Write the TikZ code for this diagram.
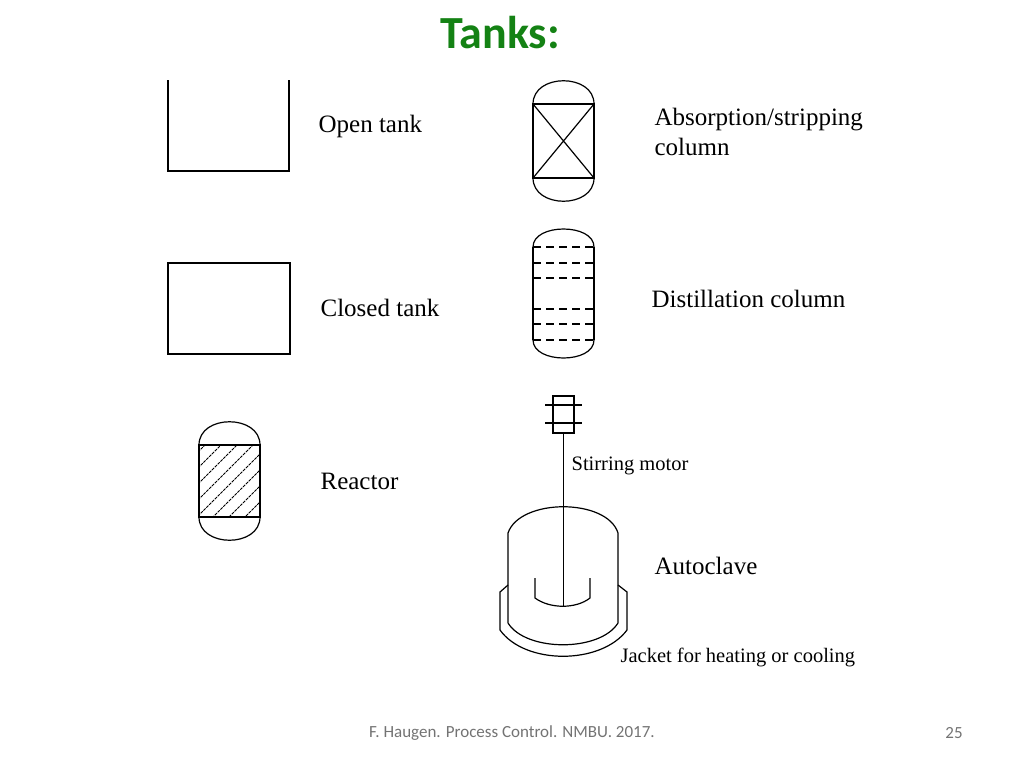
\documentclass[tikz,border=0pt]{standalone}
\usepackage{fontspec}
\setmainfont{Liberation Serif}
\newfontfamily\calfont{Carlito}
\begin{document}
\begin{tikzpicture}[x=1pt,y=-1pt,line width=1.2pt,
 lbl/.style={anchor=west,font=\fontsize{25}{30}\selectfont,inner sep=0pt,align=left},
 slbl/.style={anchor=west,font=\fontsize{20.5}{24}\selectfont,inner sep=0pt}]
\useasboundingbox (0,0) rectangle (1024,768);
\node (title) at (500,33) {\calfont\bfseries\fontsize{46}{50}\selectfont\color[RGB]{20,130,20}Tanks:};
% open tank
\draw (168,80) -- (168,171) -- (289,171) -- (289,80);
\node[lbl] (l1) at (318,126) {Open tank};
% closed tank
\draw (168,263) rectangle (290,354);
\node[lbl] (l2) at (320,308) {Closed tank};
% reactor
\draw (199,445) rectangle (260,517);
\draw (199,445) .. controls (199,414) and (260,414) .. (260,445);
\draw (199,517) .. controls (199,548) and (260,548) .. (260,517);
\begin{scope}[line width=1pt,dash pattern=on 3pt off 1pt]
\clip (199,445) rectangle (260,517);
\foreach \k in {0,...,8} \draw (195,455+\k*16) -- (265,385+\k*16);
\end{scope}
\node[lbl] (l3) at (320,481) {Reactor};
% absorption
\draw (533,104) rectangle (594,178);
\draw (533,104) -- (594,178) (533,178) -- (594,104);
\draw (533,104) .. controls (533,73) and (594,73) .. (594,104);
\draw (533,178) .. controls (533,209) and (594,209) .. (594,178);
\node[lbl] (l4) at (654,132) {Absorption/stripping\\column};
% distillation
\draw (533,247) -- (533,340) (594,247) -- (594,340);
\draw (533,247) .. controls (533,223) and (594,223) .. (594,247);
\draw (533,340) .. controls (533,364) and (594,364) .. (594,340);
\foreach \y in {247,263,278,309,324,340} \draw[dash pattern=on 8pt off 5pt] (533,\y) -- (594,\y);
\node[lbl] (l5) at (651,299) {Distillation column};
% motor
\draw (553,396) rectangle (574,433);
\draw (545,405) -- (582,405) (545,423) -- (582,423);
\draw (563.5,433) -- (563.5,607);
\node[slbl] (l6) at (571,466) {Stirring motor};
% autoclave
\draw (508,623) -- (508,533) .. controls (520,498) and (607,498) .. (618,533) -- (618,623)
 .. controls (600,652) and (526,652) .. (508,623);
\draw (508,585) -- (500,592) -- (500,630) .. controls (525,665) and (601,665) .. (627,630) -- (627,592) -- (618,585);
\draw (535,578) -- (535,598) .. controls (550,609) and (576,609) .. (590,598) -- (590,578);
\node[lbl] (l7) at (654,566) {Autoclave};
\node[slbl] (l8) at (620,657) {Jacket for heating or cooling};
\node (f) at (512,733) {\calfont\fontsize{17}{20}\selectfont\color[gray]{0.45}F. Haugen. Process Control. NMBU. 2017.};
\node (p) at (954,733) {\calfont\fontsize{17}{20}\selectfont\color[gray]{0.45}25};
\end{tikzpicture}
\end{document}
